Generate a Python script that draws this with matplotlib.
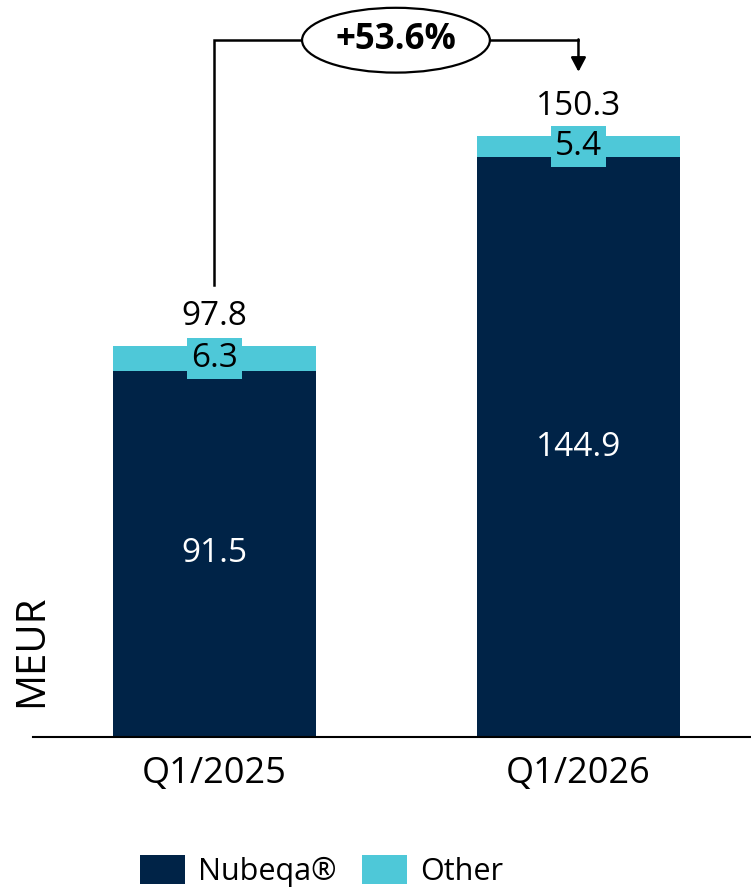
import matplotlib.pyplot as plt
from matplotlib.patches import Ellipse

plt.rcParams['font.family'] = ['Open Sans', 'DejaVu Sans']

# data
periods = ["Q1/2025", "Q1/2026"]
nubeqa = [91.5, 144.9]
other = [6.3, 5.4]
totals = [97.8, 150.3]
growth_label = "+53.6%"

dark = "#002347"
cyan = "#4ec8d8"

fig = plt.figure(figsize=(7.51, 8.93), dpi=100)
ax = fig.add_axes([33 / 751, (893 - 737) / 893, 718 / 751, 737 / 893])

x = [0, 1]
width = 0.558
ax.bar(x, nubeqa, width=width, color=dark, label="Nubeqa®")
ax.bar(x, other, width=width, bottom=nubeqa, color=cyan, label="Other")

for i in x:
    ax.text(i, nubeqa[i] / 2, f"{nubeqa[i]:.1f}", ha="center", va="center",
            fontsize=24, color="white")
    ax.text(i, nubeqa[i] + other[i] / 2, f"{other[i]:.1f}", ha="center", va="center",
            fontsize=24, color="black",
            bbox=dict(boxstyle="square,pad=0.12", facecolor=cyan, edgecolor="none"))
    ax.annotate(f"{totals[i]:.1f}", (i, totals[i]), xytext=(0, 9), textcoords="offset points",
                ha="center", va="bottom", fontsize=24, color="black")

# growth bracket
top = 174.2
ax.plot([0, 0, 1], [113, top, top], color="black", lw=1.8, solid_joinstyle="miter")
ax.annotate("", xy=(1, 166.3), xytext=(1, top + 0.2),
            arrowprops=dict(arrowstyle="-|>,head_width=0.45,head_length=0.85",
                            color="black", lw=1.8, shrinkA=0, shrinkB=0))
ax.add_patch(Ellipse((0.4986, top), 0.516, 16.2, facecolor="white", edgecolor="black",
                     lw=1.6, zorder=4))
ax.text(0.4986, top, growth_label, ha="center", va="center", fontsize=25, fontweight="bold",
        zorder=5)

ax.set_xlim(-0.4986, 1.474)
ax.set_ylim(0, 184.25)
ax.set_xticks(x)
ax.set_xticklabels(periods, fontsize=26)
ax.tick_params(axis="x", length=0, pad=14)
ax.set_yticks([])
for side in ["top", "right", "left"]:
    ax.spines[side].set_visible(False)
ax.spines["bottom"].set_linewidth(1.5)

fig.text(32 / 751, 1 - 651 / 893, "MEUR", rotation=90, ha="center", va="center", fontsize=29)

ax.legend(loc="center left", bbox_to_anchor=((140 - 12) / 751, (893 - 871) / 893),
          bbox_transform=fig.transFigure, ncol=2, frameon=False, fontsize=22,
          handlelength=1.47, handleheight=1.11, columnspacing=0.85, handletextpad=0.42,
          borderaxespad=0)

plt.savefig("out.png", dpi=100)
